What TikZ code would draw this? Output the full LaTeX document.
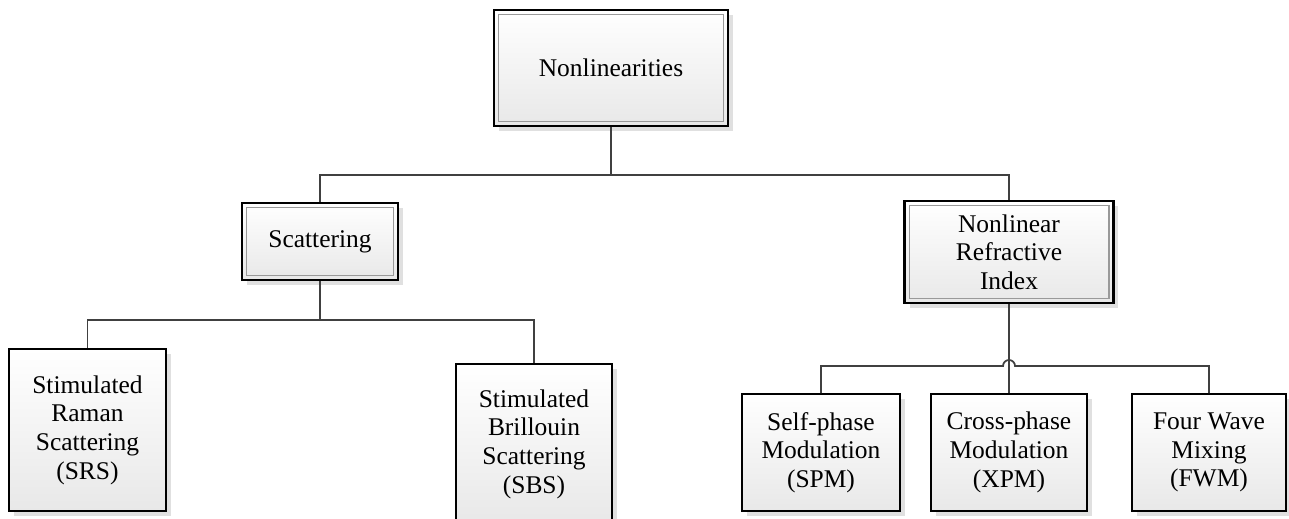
\documentclass[tikz,border=0pt]{standalone}
\usepackage{fontspec}
\setmainfont{Liberation Serif}
\usetikzlibrary{shadows}

\begin{document}
\begin{tikzpicture}[x=0.02cm,y=-0.02cm,
  box/.style={draw=black,line width=1.1pt,top color=white,bottom color=black!9,
    drop shadow={shadow xshift=0.1cm,shadow yshift=-0.1cm,fill=black!12,opacity=1},
    align=center,inner sep=0pt,font=\fontsize{14.5}{16.3}\selectfont},
  dbox/.style={box,line width=1.3pt,path picture={\draw[black!40,line width=0.6pt]
    ([shift={(0.09cm,-0.09cm)}]path picture bounding box.north west) rectangle
    ([shift={(-0.09cm,0.09cm)}]path picture bounding box.south east);}},
  conn/.style={draw=black!75,line width=1pt}]

\useasboundingbox (0,0) rectangle (1289,519);

% upper levels
\node[dbox,minimum width=4.68cm,minimum height=2.32cm] (nonlin) at (611,68) {Nonlinearities};
\node[dbox,minimum width=3.12cm,minimum height=1.54cm] (scat) at (320,241.5) {Scattering};
\node[dbox,minimum width=4.18cm,minimum height=2.04cm] (nri) at (1009,252) {Nonlinear\\Refractive\\Index};

% leaves
\node[box,minimum width=3.14cm,minimum height=3.24cm] (srs) at (87.5,430) {Stimulated\\Raman\\Scattering\\(SRS)};
\node[box,minimum width=3.12cm,minimum height=3.2cm] (sbs) at (534,444) {Stimulated\\Brillouin\\Scattering\\(SBS)};
\node[box,minimum width=3.16cm,minimum height=2.34cm] (spm) at (821,452.5) {Self-phase\\Modulation\\(SPM)};
\node[box,minimum width=3.12cm,minimum height=2.34cm] (xpm) at (1009,452.5) {Cross-phase\\Modulation\\(XPM)};
\node[box,minimum width=3.08cm,minimum height=2.34cm] (fwm) at (1209,452.5) {Four Wave\\Mixing\\(FWM)};

% connectors
\coordinate (j1) at (611,175);
\coordinate (j2) at (320,320);
\coordinate (j3) at (1009,366);
\draw[conn] (nonlin.south) -- (j1);
\draw[conn] (scat.north) |- (j1) -| (nri.north);
\draw[conn] (scat.south) -- (j2);
\draw[conn] (srs.north) |- (j2) -| (sbs.north);
\draw[conn] (nri.south) -- (xpm.north);
\draw[conn] (spm.north) |- ([xshift=-0.12cm]j3) arc[start angle=180,end angle=0,radius=0.12cm] -| (fwm.north);
\end{tikzpicture}
\end{document}
